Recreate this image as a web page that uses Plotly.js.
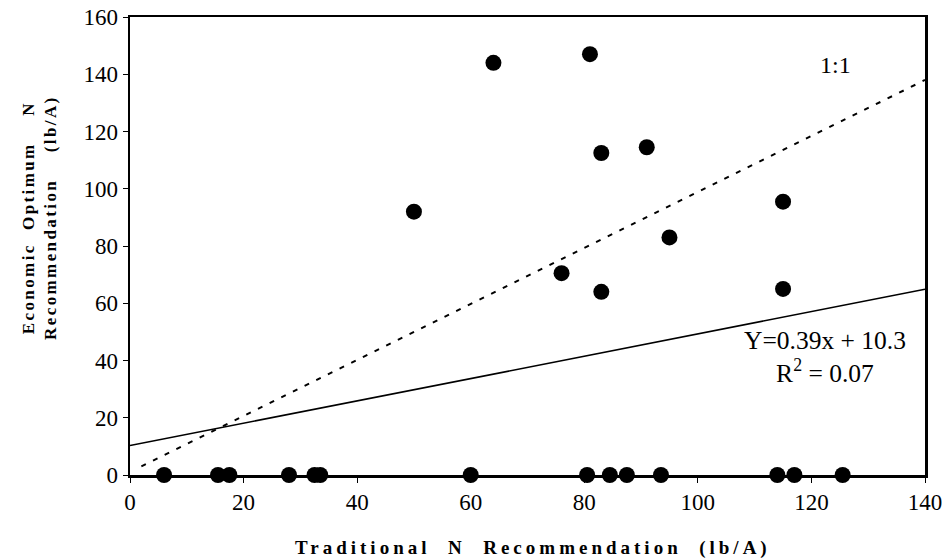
<!DOCTYPE html>
<html>
<head>
<meta charset="utf-8">
<script src="https://cdn.plot.ly/plotly-3.0.1.min.js"></script>
<style>
  html, body { margin: 0; padding: 0; background: #fff; }
  #chart { width: 948px; height: 560px; }
  .annotation[data-index="2"] text { letter-spacing: 2.4px; }
  .annotation[data-index="3"] text { letter-spacing: 4px; }
</style>
</head>
<body>
<div id="chart"></div>
<script>
// Points with a non-zero economic optimum
const traditionalN = [50, 64, 81, 83, 91, 76, 83, 95, 115, 115];
const economicN    = [92, 144, 147, 112.5, 114.5, 70.5, 64, 83, 95.5, 65];

// Points with an economic optimum of zero
const traditionalNZero = [6, 15.5, 17.5, 28, 32.5, 33.5, 60, 80.5, 84.5, 87.5, 93.5, 114, 117, 125.5];
const economicNZero    = [0, 0, 0, 0, 0, 0, 0, 0, 0, 0, 0, 0, 0, 0];

// 1:1 reference line (as drawn)
const oneToOneX = [2, 140];
const oneToOneY = [3, 138];

// Regression line Y = 0.39x + 10.3
const regX = [0, 140];
const regY = [10.3, 64.9];

const xTicks = [0, 20, 40, 60, 80, 100, 120, 140];
const yTicks = [0, 20, 40, 60, 80, 100, 120, 140, 160];

const serif = "Liberation Serif, Times New Roman, serif";
const S = "\u00A0";

const traces = [
  {
    x: oneToOneX, y: oneToOneY, type: "scatter", mode: "lines",
    line: { color: "#000", width: 2, dash: "5px,8px" }, hoverinfo: "skip"
  },
  {
    x: regX, y: regY, type: "scatter", mode: "lines",
    line: { color: "#000", width: 1.6 }, hoverinfo: "skip"
  },
  {
    x: traditionalN, y: economicN, type: "scatter", mode: "markers",
    marker: { color: "#000", size: 16 }, cliponaxis: false
  },
  {
    x: traditionalNZero, y: economicNZero, type: "scatter", mode: "markers",
    marker: { color: "#000", size: 16 }, cliponaxis: false
  }
];

const layout = {
  width: 948, height: 560,
  margin: { l: 130, r: 23, t: 17, b: 85 },
  paper_bgcolor: "#fff", plot_bgcolor: "#fff",
  showlegend: false,
  font: { family: serif, color: "#000", size: 23 },
  xaxis: {
    range: [0, 140], tickvals: xTicks, ticktext: xTicks.map(String),
    showgrid: false, zeroline: false,
    showline: true, linecolor: "#000", linewidth: 2.5, mirror: true,
    ticks: "outside", ticklen: 5, tickwidth: 1, tickcolor: "#000",
    tickfont: { family: serif, size: 23, color: "#000" }
  },
  yaxis: {
    range: [0, 160], tickvals: yTicks, ticktext: yTicks.map(String),
    showgrid: false, zeroline: false,
    showline: true, linecolor: "#000", linewidth: 2.5, mirror: true,
    ticks: "outside", ticklen: 5, tickwidth: 1, tickcolor: "#000",
    tickfont: { family: serif, size: 23, color: "#000" }
  },
  annotations: [
    { x: 124.2, y: 143.2, xref: "x", yref: "y", text: "1:1", showarrow: false,
      font: { family: serif, size: 24, color: "#000" } },
    { x: 122.4, y: 41.3, xref: "x", yref: "y", align: "center",
      text: "Y=0.39x + 10.3<br>R<sup>2</sup> = 0.07", showarrow: false,
      font: { family: serif, size: 25.5, color: "#000" } },
    { x: -0.1138, y: 0.562, xref: "paper", yref: "paper", textangle: -90,
      xanchor: "center", yanchor: "middle", showarrow: false, align: "center",
      text: "<b>Economic" + S + S + "Optimum" + S + S + S + S + "N<br>Recommendation" + S + S + S + S + "(lb/A)</b>",
      font: { family: serif, size: 17, color: "#000" } },
    { x: 0.507, y: -0.159, xref: "paper", yref: "paper",
      xanchor: "center", yanchor: "middle", showarrow: false,
      text: "<b>Traditional" + S + S + "N" + S + S + "Recommendation" + S + S + "(lb/A)</b>",
      font: { family: serif, size: 19, color: "#000" } }
  ]
};

Plotly.newPlot("chart", traces, layout, { displayModeBar: false, staticPlot: true });
</script>
</body>
</html>
